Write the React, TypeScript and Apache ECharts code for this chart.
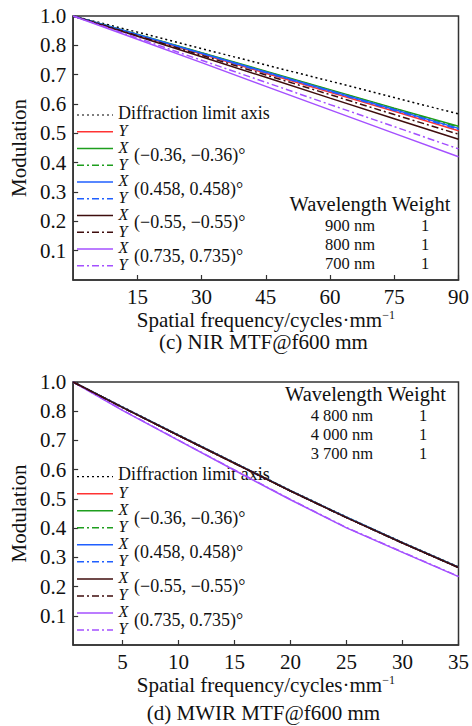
import React, { useEffect, useRef } from "react";
import * as echarts from "echarts";

// ---------- data ----------
const topFreq = [0, 15, 30, 45, 60, 75, 90];
const topDiffraction = [0.9, 0.845, 0.789, 0.733, 0.678, 0.622, 0.566];
const topRedY = [0.9, 0.835, 0.77, 0.705, 0.64, 0.575, 0.509];
const topGreenX = [0.9, 0.838, 0.775, 0.712, 0.649, 0.586, 0.524];
const topGreenY = [0.9, 0.837, 0.774, 0.71, 0.647, 0.584, 0.521];
const topBlueX = [0.9, 0.837, 0.773, 0.709, 0.645, 0.581, 0.517];
const topBlueY = [0.9, 0.836, 0.772, 0.707, 0.643, 0.578, 0.514];
const topBrownX = [0.9, 0.831, 0.761, 0.691, 0.62, 0.55, 0.48];
const topBrownY = [0.9, 0.833, 0.766, 0.699, 0.632, 0.564, 0.497];
const topPurpleX = [0.9, 0.821, 0.741, 0.66, 0.58, 0.5, 0.42];
const topPurpleY = [0.9, 0.825, 0.749, 0.674, 0.598, 0.523, 0.447];

const botFreq = [0.6, 5, 10, 15, 20, 25, 30, 35];
const botDiffraction = [0.9, 0.815, 0.719, 0.624, 0.529, 0.438, 0.351, 0.267];
const botRedY = [0.9, 0.813, 0.717, 0.622, 0.527, 0.436, 0.349, 0.265];
const botGreenX = [0.9, 0.814, 0.718, 0.623, 0.528, 0.437, 0.35, 0.266];
const botGreenY = [0.9, 0.813, 0.717, 0.622, 0.527, 0.436, 0.349, 0.265];
const botBlueX = [0.9, 0.814, 0.718, 0.623, 0.528, 0.437, 0.35, 0.266];
const botBlueY = [0.9, 0.813, 0.717, 0.622, 0.527, 0.436, 0.349, 0.265];
const botBrownX = [0.9, 0.813, 0.717, 0.622, 0.527, 0.436, 0.349, 0.265];
const botBrownY = [0.9, 0.813, 0.717, 0.622, 0.527, 0.436, 0.349, 0.265];
const botPurpleX = [0.9, 0.803, 0.7, 0.598, 0.497, 0.401, 0.317, 0.234];
const botPurpleY = [0.9, 0.804, 0.701, 0.599, 0.498, 0.402, 0.318, 0.235];

const yTickValues = [0.1, 0.2, 0.3, 0.4, 0.5, 0.6, 0.7, 0.8, 0.9];
const yTickLabels = ["0.1", "0.2", "0.3", "0.4", "0.5", "0.6", "0.7", "0.8", "1.0"];
const topXTicks = [15, 30, 45, 60, 75, 90];
const botXTicks = [5, 10, 15, 20, 25, 30, 35];

const fieldLabels = ["(−0.36, −0.36)°", "(0.458, 0.458)°", "(−0.55, −0.55)°", "(0.735, 0.735)°"];
const axisLetters = ["Y", "X", "Y", "X", "Y", "X", "Y", "X", "Y"];
const nirWavelengths = ["900 nm", "800 nm", "700 nm"];
const nirWeights = ["1", "1", "1"];
const mwirWavelengths = ["4 800 nm", "4 000 nm", "3 700 nm"];
const mwirWeights = ["1", "1", "1"];
const captions = ["(c) NIR MTF@f600 mm", "(d) MWIR MTF@f600 mm"];

// ---------- styles ----------
const FONT = '"Liberation Serif", "Times New Roman", serif';
const C_RED = "#ff3333";
const C_GREEN = "#1e9e1e";
const C_BLUE = "#1f5fff";
const C_BROWN = "#3f0d0d";
const C_PURPLE = "#a450ff";
const DOT = [2, 3];
const DASHDOT = [7, 3, 2, 3];

function mk(name: string, xs: number[], ys: number[], color: string, dash: any, idx: number) {
  return {
    name,
    type: "line",
    xAxisIndex: idx,
    yAxisIndex: idx,
    symbol: "none",
    showSymbol: false,
    smooth: false,
    data: xs.map((x, i) => [x, ys[i]]),
    lineStyle: { color, width: 1.5, type: dash },
    itemStyle: { color },
    emphasis: { disabled: true },
  };
}

function legendGraphics(y0: number, step: number) {
  const els: any[] = [];
  const x1 = 77;
  const x2 = 113;
  const rows = [
    { color: "#000", dash: DOT },
    { color: C_RED, dash: "solid" },
    { color: C_GREEN, dash: "solid" },
    { color: C_GREEN, dash: DASHDOT },
    { color: C_BLUE, dash: "solid" },
    { color: C_BLUE, dash: DASHDOT },
    { color: C_BROWN, dash: "solid" },
    { color: C_BROWN, dash: DASHDOT },
    { color: C_PURPLE, dash: "solid" },
    { color: C_PURPLE, dash: DASHDOT },
  ];
  rows.forEach((r, i) => {
    const y = y0 + i * step;
    els.push({
      type: "line",
      shape: { x1, y1: y, x2, y2: y },
      style: { stroke: r.color, lineWidth: r.dash === DOT ? 1.2 : 1.5, lineDash: r.dash === "solid" ? null : r.dash },
      z: 1,
    });
  });
  els.push({
    type: "text",
    x: 118,
    y: y0 - 2.5,
    z: 1,
    style: { text: "Diffraction limit axis", fontFamily: FONT, fontSize: 18, fill: "#111", textVerticalAlign: "middle", textAlign: "left" },
  });
  axisLetters.forEach((l, i) => {
    els.push({
      type: "text",
      x: 118.5,
      y: y0 + (i + 1) * step - 1,
      z: 1,
      style: { text: l, fontFamily: FONT, fontSize: 16, fontStyle: "italic", fill: "#111", textVerticalAlign: "middle", textAlign: "left" },
    });
  });
  fieldLabels.forEach((f, k) => {
    const ra = y0 + (2 + 2 * k) * step;
    const rb = ra + step;
    els.push({
      type: "text",
      x: 134,
      y: (ra + rb) / 2 - 1.5,
      z: 1,
      style: { text: f, fontFamily: FONT, fontSize: 18, fill: "#111", textVerticalAlign: "middle", textAlign: "left" },
    });
  });
  return els;
}

function tableGraphics(x0: number, yHead: number, rowY: number[], wl: string[], wt: string[], wlRight: number, wtX: number) {
  const els: any[] = [];
  els.push({
    type: "text",
    x: x0,
    y: yHead,
    style: { text: "Wavelength Weight", fontFamily: FONT, fontSize: 20.5, fill: "#111", textVerticalAlign: "middle", textAlign: "left" },
  });
  wl.forEach((w, i) => {
    els.push({
      type: "text",
      x: wlRight,
      y: rowY[i],
      style: { text: w, fontFamily: FONT, fontSize: 16.5, fill: "#111", textVerticalAlign: "middle", textAlign: "right" },
    });
    els.push({
      type: "text",
      x: wtX,
      y: rowY[i],
      style: { text: wt[i], fontFamily: FONT, fontSize: 16.5, fill: "#111", textVerticalAlign: "middle", textAlign: "center" },
    });
  });
  return els;
}

function yAxisCfg(idx: number) {
  return {
    type: "value",
    gridIndex: idx,
    min: 0,
    max: 0.9,
    interval: 0.1,
    name: "Modulation",
    nameLocation: "middle",
    nameRotate: 90,
    nameGap: 37,
    nameTextStyle: { fontFamily: FONT, fontSize: 21, color: "#111" },
    axisLine: { show: true, lineStyle: { color: "#333", width: 1.5 } },
    axisTick: { show: true, inside: true, length: 5, customValues: yTickValues, lineStyle: { color: "#333", width: 1.2 } },
    axisLabel: {
      customValues: yTickValues,
      margin: 7,
      fontFamily: FONT,
      fontSize: 21,
      color: "#111",
      formatter: (v: number) => {
        const i = yTickValues.findIndex((t) => Math.abs(t - v) < 1e-6);
        return i >= 0 ? yTickLabels[i] : "";
      },
    },
    splitLine: { show: false },
  };
}

function xAxisCfg(idx: number, min: number, max: number, ticks: number[]) {
  return {
    type: "value",
    gridIndex: idx,
    min,
    max,
    name: "Spatial frequency/cycles·mm{sup|−1}",
    nameLocation: "middle",
    nameGap: 29,
    nameTextStyle: {
      fontFamily: FONT,
      fontSize: 21,
      color: "#111",
      rich: { sup: { fontFamily: FONT, fontSize: 12, color: "#111", verticalAlign: "top", padding: [0, 0, 10, 0] } },
    },
    axisLine: { show: true, lineStyle: { color: "#333", width: 1.5 } },
    axisTick: { show: true, inside: true, length: 5, customValues: ticks, lineStyle: { color: "#333", width: 1.2 } },
    axisLabel: { customValues: ticks, margin: 6, fontFamily: FONT, fontSize: 21, color: "#111" },
    splitLine: { show: false },
  };
}

export default function App() {
  const ref = useRef<HTMLDivElement>(null);
  useEffect(() => {
    if (!ref.current) return;
    const chart = echarts.init(ref.current, null, { renderer: "svg" });
    const series = [
      mk("Diffraction limit axis", topFreq, topDiffraction, "#000", DOT, 0),
      mk("Y", topFreq, topRedY, C_RED, "solid", 0),
      mk("X (−0.36, −0.36)°", topFreq, topGreenX, C_GREEN, "solid", 0),
      mk("Y (−0.36, −0.36)°", topFreq, topGreenY, C_GREEN, DASHDOT, 0),
      mk("X (0.458, 0.458)°", topFreq, topBlueX, C_BLUE, "solid", 0),
      mk("Y (0.458, 0.458)°", topFreq, topBlueY, C_BLUE, DASHDOT, 0),
      mk("X (−0.55, −0.55)°", topFreq, topBrownX, C_BROWN, "solid", 0),
      mk("Y (−0.55, −0.55)°", topFreq, topBrownY, C_BROWN, DASHDOT, 0),
      mk("X (0.735, 0.735)°", topFreq, topPurpleX, C_PURPLE, "solid", 0),
      mk("Y (0.735, 0.735)°", topFreq, topPurpleY, C_PURPLE, DASHDOT, 0),

      mk("Diffraction limit axis", botFreq, botDiffraction, "#000", DOT, 1),
      mk("Y", botFreq, botRedY, C_RED, "solid", 1),
      mk("X (−0.36, −0.36)°", botFreq, botGreenX, C_GREEN, "solid", 1),
      mk("Y (−0.36, −0.36)°", botFreq, botGreenY, C_GREEN, DASHDOT, 1),
      mk("X (0.458, 0.458)°", botFreq, botBlueX, C_BLUE, "solid", 1),
      mk("Y (0.458, 0.458)°", botFreq, botBlueY, C_BLUE, DASHDOT, 1),
      mk("X (0.735, 0.735)°", botFreq, botPurpleX, C_PURPLE, "solid", 1),
      mk("Y (0.735, 0.735)°", botFreq, botPurpleY, C_PURPLE, DASHDOT, 1),
      mk("Y (−0.55, −0.55)°", botFreq, botBrownY, C_BROWN, DASHDOT, 1),
      mk("X (−0.55, −0.55)°", botFreq, botBrownX, C_BROWN, "solid", 1),
    ];
    const graphic: any[] = [
      ...legendGraphics(115, 16.74),
      ...legendGraphics(476.7, 17.03),
      ...tableGraphics(289.5, 203.5, [225, 244, 263], nirWavelengths, nirWeights, 375, 425),
      ...tableGraphics(285, 393.5, [415, 434, 453], mwirWavelengths, mwirWeights, 373, 423),
      {
        type: "text",
        x: 263.5,
        y: 342,
        style: { text: captions[0], fontFamily: FONT, fontSize: 21, fill: "#111", textAlign: "center", textVerticalAlign: "middle" },
      },
      {
        type: "text",
        x: 263.5,
        y: 713,
        style: { text: captions[1], fontFamily: FONT, fontSize: 21, fill: "#111", textAlign: "center", textVerticalAlign: "middle" },
      },
    ];
    chart.setOption({
      animation: false,
      backgroundColor: "#fff",
      grid: [
        { left: 67, top: 16, width: 393, height: 264, show: true, borderColor: "#333", borderWidth: 1.5, backgroundColor: "transparent" },
        { left: 67, top: 382, width: 393, height: 263, show: true, borderColor: "#333", borderWidth: 1.5, backgroundColor: "transparent" },
      ],
      xAxis: [xAxisCfg(0, 0, 90, topXTicks), xAxisCfg(1, 0.6, 35, botXTicks)],
      yAxis: [yAxisCfg(0), yAxisCfg(1)],
      series,
      graphic,
    });
    return () => chart.dispose();
  }, []);
  return <div ref={ref} style={{ position: "absolute", left: 0, top: 0, width: 472, height: 726 }} />;
}
